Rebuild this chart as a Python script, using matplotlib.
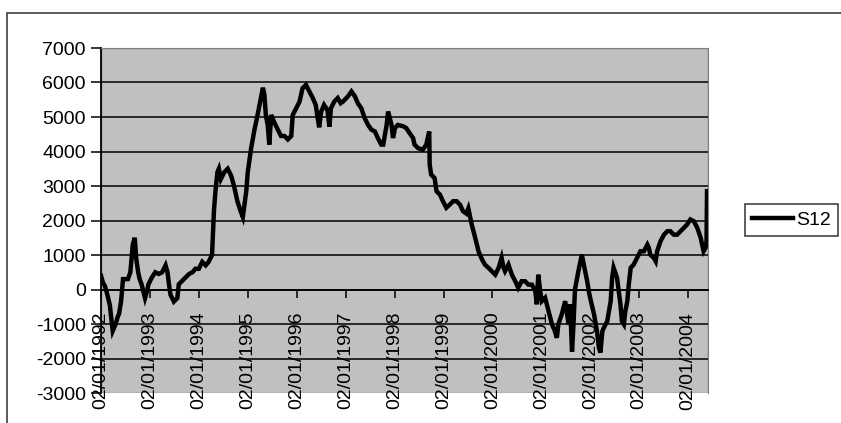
# s12_chart.py
#   weekly S12 series, 1992 - 2004, in the old spreadsheet look

import matplotlib
matplotlib.use("Agg")
from matplotlib import pyplot as plt
from matplotlib.patches import Rectangle

plt.rcParams["font.family"] = ["Liberation Sans", "DejaVu Sans"]

# data (time in decimal years)
years = [
    1992.00, 1992.04, 1992.08, 1992.13, 1992.18, 1992.24, 1992.27, 1992.30, 1992.34, 1992.37,
    1992.41, 1992.45, 1992.50, 1992.55, 1992.60, 1992.65, 1992.69, 1992.72, 1992.76, 1992.79,
    1992.83, 1992.90, 1992.94, 1992.97, 1993.04, 1993.11, 1993.18, 1993.25, 1993.32, 1993.36,
    1993.39, 1993.42, 1993.49, 1993.56, 1993.59, 1993.66, 1993.73, 1993.80, 1993.87, 1993.93,
    1994.00, 1994.07, 1994.14, 1994.20, 1994.27, 1994.31, 1994.34, 1994.38, 1994.41, 1994.45,
    1994.52, 1994.59, 1994.66, 1994.72, 1994.79, 1994.86, 1994.90, 1994.97, 1995.00, 1995.07,
    1995.14, 1995.20, 1995.27, 1995.31, 1995.34, 1995.37, 1995.41, 1995.44, 1995.48, 1995.54,
    1995.61, 1995.68, 1995.75, 1995.82, 1995.89, 1995.92, 1995.99, 1996.06, 1996.12, 1996.19,
    1996.26, 1996.33, 1996.39, 1996.46, 1996.50, 1996.56, 1996.63, 1996.67, 1996.70, 1996.77,
    1996.84, 1996.90, 1996.95, 1997.05, 1997.12, 1997.19, 1997.25, 1997.32, 1997.39, 1997.46,
    1997.53, 1997.60, 1997.66, 1997.73, 1997.77, 1997.84, 1997.87, 1997.94, 1997.97, 1998.01,
    1998.07, 1998.18, 1998.24, 1998.31, 1998.38, 1998.41, 1998.48, 1998.58, 1998.65, 1998.71,
    1998.72, 1998.75, 1998.82, 1998.86, 1998.93, 1998.99, 1999.06, 1999.13, 1999.20, 1999.27,
    1999.34, 1999.40, 1999.47, 1999.51, 1999.58, 1999.65, 1999.72, 1999.79, 1999.85, 1999.92,
    1999.99, 2000.06, 2000.13, 2000.19, 2000.23, 2000.26, 2000.33, 2000.40, 2000.47, 2000.53,
    2000.60, 2000.67, 2000.74, 2000.81, 2000.88, 2000.91, 2000.94, 2000.98, 2001.01, 2001.08,
    2001.15, 2001.22, 2001.28, 2001.32, 2001.35, 2001.42, 2001.49, 2001.52, 2001.56, 2001.59,
    2001.63, 2001.66, 2001.69, 2001.76, 2001.83, 2001.90, 2001.94, 2001.98, 2002.01, 2002.08,
    2002.14, 2002.18, 2002.21, 2002.25, 2002.28, 2002.35, 2002.42, 2002.45, 2002.48, 2002.55,
    2002.62, 2002.65, 2002.69, 2002.72, 2002.76, 2002.79, 2002.83, 2002.89, 2002.96, 2003.03,
    2003.10, 2003.17, 2003.20, 2003.23, 2003.30, 2003.34, 2003.37, 2003.44, 2003.51, 2003.58,
    2003.64, 2003.71, 2003.78, 2003.85, 2003.92, 2003.98, 2004.05, 2004.12, 2004.19, 2004.26,
    2004.29, 2004.32, 2004.36, 2004.38, 2004.39,
]
s12 = [
    400, 200, 100, -150, -450, -1200, -1100, -1000, -800, -700,
    -350, 300, 300, 300, 500, 1300, 1500, 900, 500, 300,
    150, -250, -50, 150, 350, 500, 450, 500, 700, 500,
    150, -150, -350, -250, 150, 250, 350, 450, 500, 600,
    600, 800, 700, 800, 1000, 2300, 2850, 3400, 3500, 3200,
    3400, 3500, 3300, 3000, 2550, 2250, 2100, 2850, 3400, 4100,
    4650, 5050, 5550, 5850, 5650, 5060, 4750, 4200, 5060, 4850,
    4650, 4450, 4450, 4350, 4450, 5060, 5250, 5450, 5830, 5930,
    5740, 5550, 5350, 4700, 5150, 5350, 5200, 4720, 5250, 5450,
    5550, 5400, 5450, 5600, 5740, 5600, 5400, 5260, 4970, 4770,
    4630, 4580, 4390, 4200, 4200, 4770, 5160, 4770, 4390, 4680,
    4770, 4730, 4680, 4530, 4390, 4200, 4100, 4050, 4200, 4580,
    3620, 3330, 3230, 2850, 2750, 2560, 2370, 2460, 2560, 2560,
    2460, 2270, 2200, 2350, 1880, 1500, 1100, 870, 720, 630,
    530, 430, 630, 920, 630, 530, 720, 430, 240, 50,
    240, 240, 140, 140, -50, -430, 430, -50, -340, -240,
    -630, -1010, -1210, -1400, -1010, -720, -340, -630, -1010, -430,
    -1800, -1010, 0, 530, 1010, 530, 240, -100, -300, -720,
    -1210, -1690, -1830, -1210, -1110, -920, -340, 340, 630, 340,
    -430, -920, -1010, -630, -340, 140, 630, 720, 920, 1110,
    1110, 1300, 1210, 1010, 920, 820, 1110, 1400, 1590, 1690,
    1690, 1590, 1590, 1690, 1790, 1880, 2030, 1980, 1790, 1500,
    1300, 1110, 1210, 1400, 2850,
]
tick_years = list(range(1992, 2005))
tick_labels = [f"02/01/{y}" for y in tick_years]
y_ticks = list(range(-3000, 8000, 1000))


def fmt(v):
    return f"-{abs(v)}" if v < 0 else f"{v}"


def main():
    W, H = 841, 423
    fig = plt.figure(figsize=(W / 100, H / 100), dpi=100)

    # outer chart frame
    fig.patches.append(Rectangle((7 / W, -0.05), 1.1, 1 - 13 / H + 0.05,
                                 transform=fig.transFigure, fill=False,
                                 edgecolor="#404040", lw=1.2))

    ax = fig.add_axes([101 / W, 1 - 393 / H, (708 - 101) / W, (393 - 48) / H])
    ax.set_facecolor("#c0c0c0")

    # category axis crosses at zero (set first: it resets the ticks)
    ax.spines["bottom"].set_position(("data", 0))
    ax.spines["bottom"].set_linewidth(1.3)
    ax.spines["left"].set_linewidth(1.3)
    for s in ("top", "right"):
        ax.spines[s].set_color("#808080")
    ax.add_patch(Rectangle((0, 0), 1, 1, transform=ax.transAxes, fill=False,
                           edgecolor="#808080", lw=1.0, zorder=0.5))

    for v in y_ticks[1:-1]:
        ax.axhline(v, color="black", lw=1.1, zorder=1)

    ax.plot(years, s12, color="black", lw=3.2, solid_joinstyle="miter",
            label="S12", zorder=2)

    ax.set_xlim(1992.0, 2004.41)
    ax.set_ylim(-3000, 7000)

    ax.set_yticks(y_ticks)
    ax.set_yticklabels([fmt(v) for v in y_ticks], fontsize=14)
    ax.set_xticks([y + 1 / 365 for y in tick_years])
    ax.set_xticklabels(tick_labels, rotation=90, fontsize=14)

    ax.tick_params(axis="y", direction="out", length=7, width=1.1, pad=4)
    ax.tick_params(axis="x", direction="out", length=6, width=1.1, pad=10)

    leg = ax.legend(loc="center left", bbox_to_anchor=(745 / W, 1 - 220 / H),
                    bbox_transform=fig.transFigure, fontsize=14, frameon=True,
                    fancybox=False, handlelength=2.1, handletextpad=0.2,
                    borderpad=0.35, borderaxespad=0)
    leg.get_frame().set_edgecolor("black")
    leg.get_frame().set_linewidth(1.1)

    fig.savefig("out.png", dpi=100)
    plt.close(fig)


if __name__ == "__main__":
    main()
